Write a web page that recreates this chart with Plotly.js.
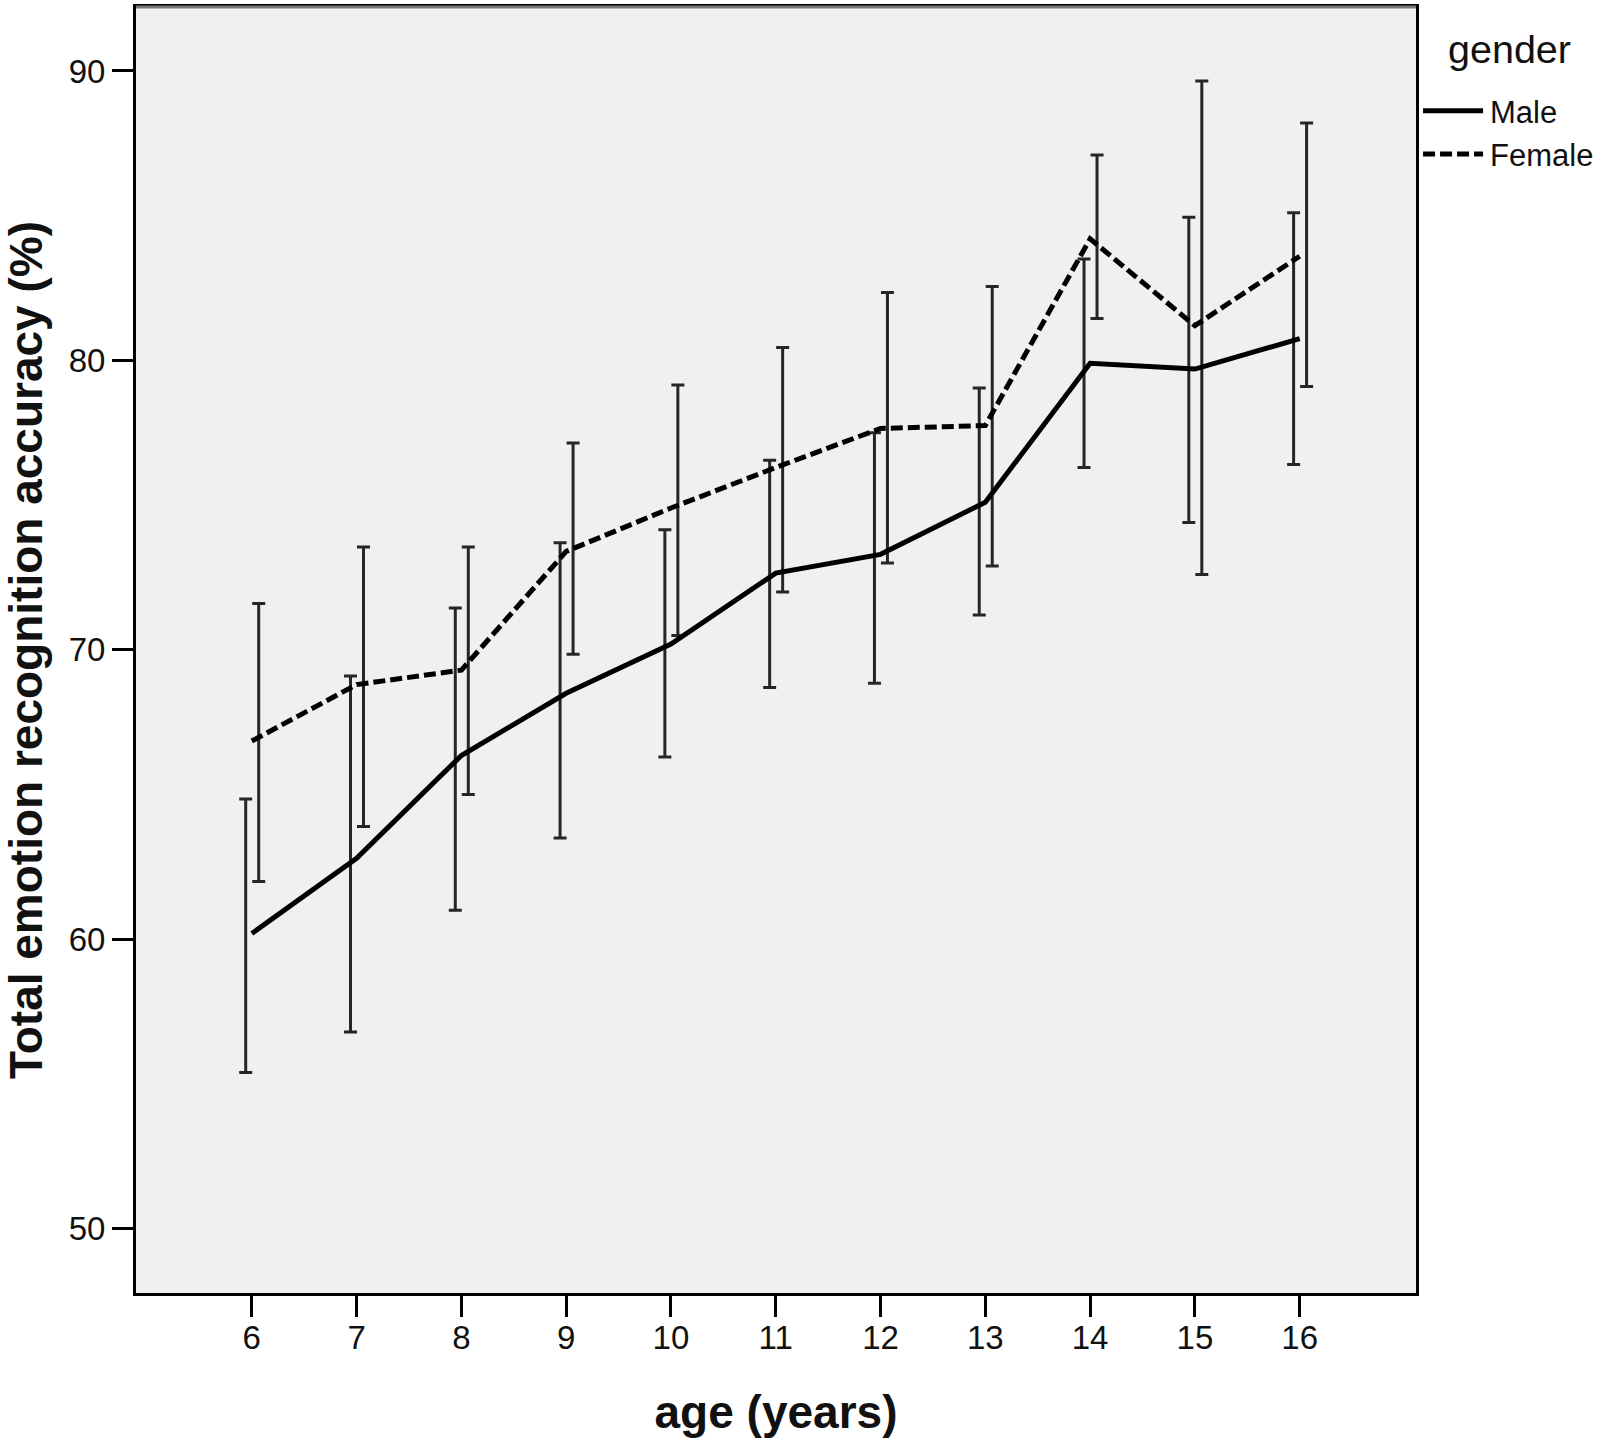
<!DOCTYPE html>
<html>
<head>
<meta charset="utf-8">
<script src="https://cdn.plot.ly/plotly-3.0.1.min.js"></script>
<style>
html,body{margin:0;padding:0;background:#ffffff;}
#chart{width:1600px;height:1441px;}
</style>
</head>
<body>
<div id="chart"></div>
<script>
// ---- data ----
const ages = [6, 7, 8, 9, 10, 11, 12, 13, 14, 15, 16];
const ageLabels = ["6", "7", "8", "9", "10", "11", "12", "13", "14", "15", "16"];
const yTickVals = [50, 60, 70, 80, 90];
const yTickLabels = ["50", "60", "70", "80", "90"];

const maleMean  = [60.2, 62.8, 66.35, 68.5, 70.2, 72.65, 73.3, 75.1, 79.9, 79.7, 80.75];
const maleLow   = [55.4, 56.8, 61.0, 63.5, 66.3, 68.7, 68.85, 71.2, 76.3, 74.4, 76.4];
const maleHigh  = [64.85, 69.1, 71.45, 73.7, 74.15, 76.55, 77.5, 79.05, 83.5, 84.95, 85.1];

const femaleMean = [66.85, 68.8, 69.3, 73.4, 74.9, 76.3, 77.65, 77.75, 84.2, 81.2, 83.6];
const femaleLow  = [62.0, 63.9, 65.0, 69.85, 70.5, 72.0, 73.0, 72.9, 81.45, 72.6, 79.1];
const femaleHigh = [71.6, 73.55, 73.55, 77.15, 79.15, 80.45, 82.35, 82.55, 87.1, 89.65, 88.2];

const seriesNames = ["Male", "Female"];
const legendTitle = "gender";
const xTitle = "age (years)";
const yTitle = "Total emotion recognition accuracy (%)";

// ---- styling ----
const FONT = '"Liberation Sans", Arial, "DejaVu Sans", sans-serif';
const dodgeMale = -0.058, dodgeFemale = 0.066;   // error bars drawn side by side

function errTrace(means, lows, highs, dodge) {
  return {
    type: 'scatter',
    mode: 'markers',
    x: ages.map(a => a + dodge),
    y: means,
    marker: {size: 1, color: 'rgba(0,0,0,0)'},
    error_y: {
      type: 'data',
      symmetric: false,
      array: highs.map((h, i) => h - means[i]),
      arrayminus: lows.map((l, i) => means[i] - l),
      color: '#262626',
      thickness: 3,
      width: 6.5
    },
    showlegend: false,
    hoverinfo: 'skip'
  };
}

const traces = [
  errTrace(maleMean, maleLow, maleHigh, dodgeMale),
  errTrace(femaleMean, femaleLow, femaleHigh, dodgeFemale),
  {
    type: 'scatter', mode: 'lines', name: seriesNames[0],
    x: ages, y: maleMean,
    line: {color: '#000000', width: 5, dash: 'solid'}
  },
  {
    type: 'scatter', mode: 'lines', name: seriesNames[1],
    x: ages, y: femaleMean,
    line: {color: '#000000', width: 5, dash: '12px,5px'}
  }
];

const layout = {
  width: 1600,
  height: 1441,
  margin: {l: 136, r: 184, t: 7, b: 148, pad: 0, autoexpand: false},
  paper_bgcolor: '#ffffff',
  plot_bgcolor: '#f0f0f0',
  font: {family: FONT, color: '#111111'},
  showlegend: true,
  legend: {
    x: 1.0016, xanchor: 'left',
    y: 0.94, yanchor: 'top',
    bgcolor: 'rgba(0,0,0,0)',
    borderwidth: 0,
    itemwidth: 62,
    font: {family: FONT, size: 31, color: '#111111'},
    tracegroupgap: 0
  },
  annotations: [
    {text: legendTitle, xref: 'paper', yref: 'paper', x: 1.0734, y: 0.9673,
     xanchor: 'center', yanchor: 'middle', showarrow: false,
     font: {family: FONT, size: 39.5, color: '#111111'}}
  ],
  xaxis: {
    range: [4.895, 17.11],
    tickmode: 'array',
    tickvals: ages,
    ticktext: ageLabels,
    ticks: 'outside', ticklen: 21, tickwidth: 3, tickcolor: '#000000',
    ticklabelstandoff: -8,
    showline: true, linewidth: 3, linecolor: '#000000', mirror: true,
    showgrid: false, zeroline: false,
    tickfont: {family: FONT, size: 33, color: '#111111'},
    automargin: false,
    title: {text: xTitle, standoff: 42, font: {family: FONT, size: 46, weight: 700, color: '#111111'}}
  },
  yaxis: {
    range: [47.78, 92.21],
    tickmode: 'array',
    tickvals: yTickVals,
    ticktext: yTickLabels,
    ticks: 'outside', ticklen: 21, tickwidth: 3, tickcolor: '#000000',
    showline: true, linewidth: 3, linecolor: '#000000', mirror: true,
    showgrid: false, zeroline: false,
    tickfont: {family: FONT, size: 33, color: '#111111'},
    automargin: false,
    title: {text: yTitle, standoff: 16, font: {family: FONT, size: 46, weight: 700, color: '#111111'}}
  },
  shapes: [
    {type: 'line', xref: 'paper', yref: 'paper', x0: 0, x1: 1, y0: 1, y1: 1,
     line: {color: '#7a7a7a', width: 3}, layer: 'above'}
  ]
};

Plotly.newPlot('chart', traces, layout, {displayModeBar: false, staticPlot: true}).then(function (gd) {
  // lengthen the legend line samples to match the reference key
  gd.querySelectorAll('.legend .legendlines path').forEach(function (p) {
    p.setAttribute('d', 'M5,0h60');
  });
});
</script>
</body>
</html>
